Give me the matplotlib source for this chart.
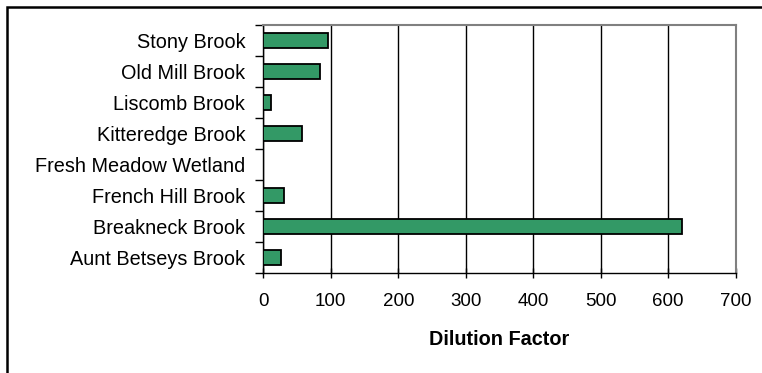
import matplotlib
matplotlib.use("Agg")
import matplotlib.pyplot as plt
from matplotlib.patches import Rectangle
import numpy as np

plt.rcParams['font.family'] = ['Liberation Sans', 'DejaVu Sans']

# data, bottom to top
sites = ["Aunt Betseys Brook", "Breakneck Brook", "French Hill Brook",
         "Fresh Meadow Wetland", "Kitteredge Brook", "Liscomb Brook",
         "Old Mill Brook", "Stony Brook"]
dilution = [26, 620, 31, 0, 57, 12, 84, 96]
xticks = [0, 100, 200, 300, 400, 500, 600, 700]

fig = plt.figure(figsize=(7.62, 3.73), dpi=100)
ax = fig.add_axes([0.3455, 0.2673, 0.62, 0.6657])

y = np.arange(len(sites))
ax.barh(y, dilution, height=0.47, color='#339966', edgecolor='black',
        linewidth=1.3, zorder=3)

ax.set_xlim(0, 700)
ax.set_ylim(-0.5, len(sites) - 0.5)
ax.set_xticks(xticks)
ax.set_xticklabels([str(v) for v in xticks], fontsize=13.5)
ax.xaxis.grid(True, color='black', linewidth=1, zorder=0)
ax.set_axisbelow(True)

ax.set_yticks(y)
ax.set_yticklabels(sites, fontsize=14.3)
ax.set_yticks(np.arange(-0.5, len(sites), 1), minor=True)
ax.tick_params(axis='y', which='major', length=0, pad=13)
ax.tick_params(axis='y', which='minor', length=6, width=1, direction='out')
ax.tick_params(axis='x', length=7, width=1, direction='inout', pad=11)

for s in ['top', 'right']:
    ax.spines[s].set_color('#808080')
    ax.spines[s].set_linewidth(1.5)
for s in ['left', 'bottom']:
    ax.spines[s].set_color('black')
    ax.spines[s].set_linewidth(1)

ax.set_xlabel("Dilution Factor", fontsize=14.3, fontweight='bold', labelpad=14)

# outer chart border
fig.add_artist(Rectangle((7 / 762, -0.2), 1.2, 1.2 - 7 / 373,
                         transform=fig.transFigure, fill=False,
                         edgecolor='black', linewidth=1.8))

fig.savefig("out.png", dpi=100)
